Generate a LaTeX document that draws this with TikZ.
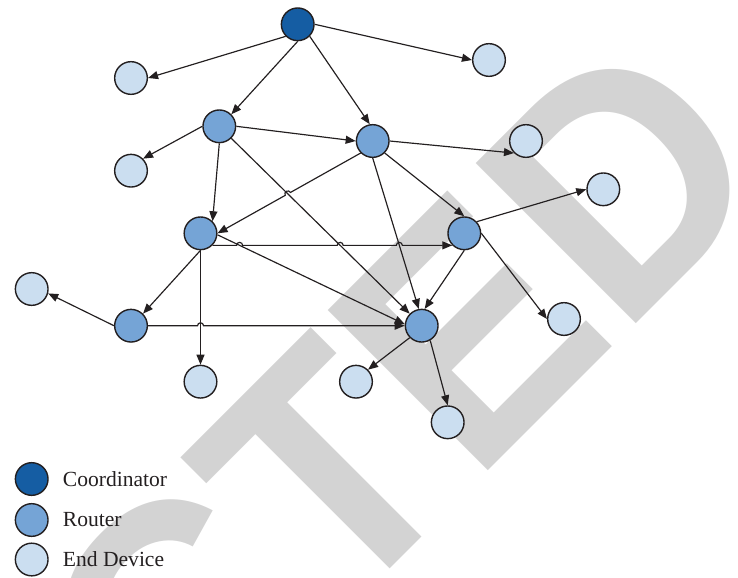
\documentclass[tikz,border=0pt]{standalone}
\usepackage{graphicx}
\usepackage{fontspec}
\setmainfont{Liberation Serif}
\newfontfamily\wmfont{Liberation Sans}
\usetikzlibrary{arrows.meta,positioning,calc}
\definecolor{coordblue}{RGB}{21,93,163}
\definecolor{routerblue}{RGB}{117,164,214}
\definecolor{endblue}{RGB}{203,222,240}
\definecolor{wmgray}{RGB}{211,211,211}
\definecolor{linegray}{RGB}{35,31,32}

\begin{document}
\begin{tikzpicture}
	[x=0.03cm, y=-0.03cm,
	dev/.style ={draw=linegray, circle, line width=1.2pt, minimum size=0.98cm, inner sep=0pt},
	coord/.style ={dev, fill=coordblue},
	router/.style ={dev, fill=routerblue},
	enddev/.style ={dev, fill=endblue},
	link/.style ={-{Triangle[length=3mm,width=2.4mm]}, color=linegray, line width=1pt},
	legtext/.style ={inner sep=0pt, text=linegray, font=\fontsize{18.4}{22}\selectfont}]
	\useasboundingbox (0,0) rectangle (738,577);
	% watermark
	\begin{scope}
		\clip (0,0) rectangle (738,577);
		\node[anchor=base east, rotate=45, inner sep=0pt, text=wmgray, font=\wmfont\bfseries\fontsize{281}{284}\selectfont] (wm) at (781.3,178.2) {\scalebox{0.95}[1]{RETRACTED}};
	\end{scope}
	% nodes
	\node[coord] (C) at (297.7,24.3) {};
	\node[router] (R1) at (219.3,126.3) {};
	\node[router] (R2) at (372.7,141) {};
	\node[router] (R3) at (200.5,233.3) {};
	\node[router] (R4) at (464.3,233.3) {};
	\node[router] (R5) at (131,325.7) {};
	\node[router] (R6) at (421.7,325.7) {};
	\node[enddev] (E1) at (131,78) {};
	\node[enddev] (E2) at (489,60) {};
	\node[enddev] (E3) at (131,170.7) {};
	\node[enddev] (E4) at (526,141) {};
	\node[enddev] (E5) at (603.3,189.3) {};
	\node[enddev] (E6) at (31.7,289) {};
	\node[enddev] (E7) at (200.5,381.7) {};
	\node[enddev] (E8) at (356,381.7) {};
	\node[enddev] (E9) at (564,319) {};
	\node[enddev] (E10) at (447.7,422.3) {};
	% links
	\path[link] (C.225) edge (E1.east)
	(C.east) edge (E2.west)
	(C.south) edge (R1.45)
	(C.-45) edge (R2.100)
	(R1.west) edge (E3.45)
	(R1.east) edge (R2.west)
	(R1.south) edge (R3.45)
	(R1.-45) edge (R6.135)
	(R2.east) edge (E4.225)
	(R2.south) edge (R6.100)
	(R2.-45) edge (R4.north)
	(R3.south) edge (R5.45)
	(R3.south) edge (E7.north)
	(R3.-5) edge (R6.175)
	(R4.43) edge (E5.west)
	(R4.east) edge (E9.west)
	(R4.south) edge (R6.80)
	(R5.west) edge (E6.-15)
	(R6.225) edge (E8.45)
	(R6.300) edge (E10.north);
	% links with line jumps
	\coordinate (a1) at (R2.225);
	\coordinate (a2) at (R3.east);
	\coordinate (a3) at (R3.-45);
	\coordinate (a4) at (R4.225);
	\coordinate (b1) at (R1.-45);
	\coordinate (b2) at (R6.135);
	\coordinate (c1) at (R3.-5);
	\coordinate (c2) at (R6.175);
	\coordinate (d1) at (R2.south);
	\coordinate (d2) at (R6.100);
	\coordinate (e1) at (R3.south);
	\coordinate (e2) at (E7.north);
	\coordinate (h0) at (intersection of a1--a2 and b1--b2);
	\coordinate (h1) at (intersection of a3--a4 and c1--c2);
	\coordinate (h2) at (intersection of a3--a4 and b1--b2);
	\coordinate (h3) at (intersection of a3--a4 and d1--d2);
	\coordinate (h4) at (intersection of R5--R6 and e1--e2);
	\draw[link] (a1) -- ($(h0)!0.9mm!(a1)$) arc[start angle=29, delta angle=180, radius=0.9mm] -- (a2);
	\draw[link] (a3) -- ($(h1)+(-0.9mm,0)$) arc[start angle=180, end angle=0, radius=0.9mm]
	-- ($(h2)+(-0.9mm,0)$) arc[start angle=180, end angle=0, radius=0.9mm]
	-- ($(h3)+(-0.9mm,0)$) arc[start angle=180, end angle=0, radius=0.9mm] -- (a4);
	\draw[link] (R5.east) -- ($(h4)+(-0.9mm,0)$) arc[start angle=180, end angle=0, radius=0.9mm] -- (R6.west);
	% legend
	\node[coord] (L1) at (31.7,479) {};
	\node[router] (L2) at (31.7,520) {};
	\node[enddev] (L3) at (31.7,559.5) {};
	\node[legtext, right=0.42cm of L1] (t1) {Coordinator};
	\node[legtext, right=0.42cm of L2] (t2) {Router};
	\node[legtext, right=0.42cm of L3] (t3) {End Device};
\end{tikzpicture}
\end{document}
